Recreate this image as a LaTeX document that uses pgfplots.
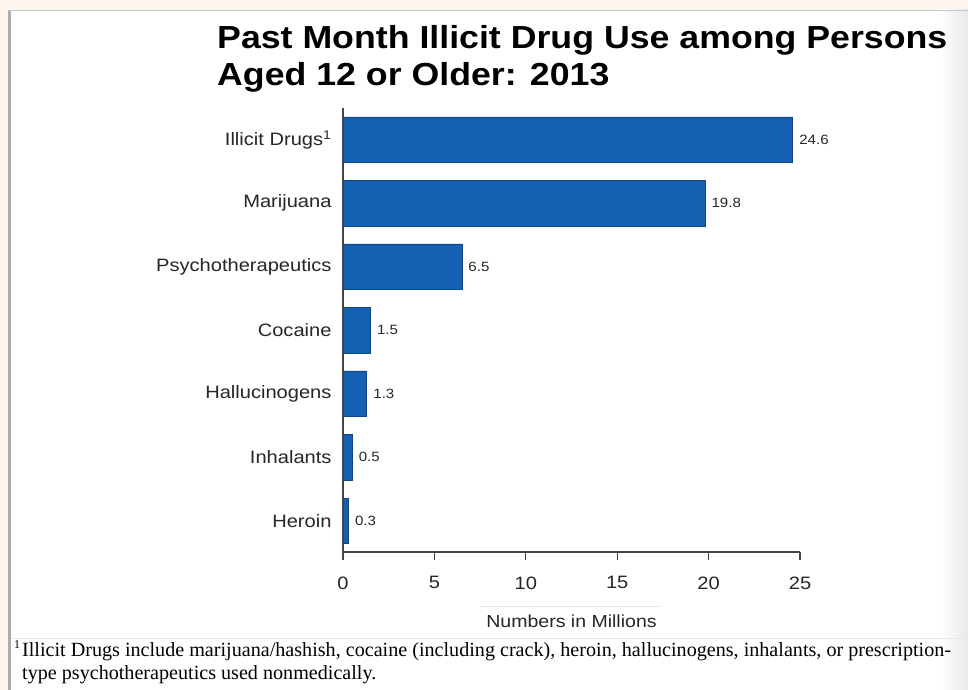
\documentclass[border=0pt]{standalone}
\usepackage{fontspec}
\setmainfont{Liberation Sans}[FakeStretch=1.12]
\newfontfamily\fnserif{Liberation Serif}
\usepackage{pgfplots}
\pgfplotsset{compat=1.18}
\definecolor{barblue}{RGB}{21,96,176}
\definecolor{bardark}{RGB}{18,70,130}
\definecolor{cream}{RGB}{253,246,238}
\definecolor{axgray}{RGB}{70,70,70}
\begin{document}
\begin{tikzpicture}[x=1bp,y=1bp]
\fill[cream] (0,0) rectangle (968,-690);
\useasboundingbox (0,0) rectangle (968,-690);
\fill[white] (8,-10) rectangle (968,-690);
\shade[left color=white, right color=gray!18] (940,-10) rectangle (968,-690);
\fill[gray!65] (8,-10) rectangle (11,-690);
\draw[gray!45, line width=1bp] (8,-10.5) -- (968,-10.5);
\draw[gray!22, line width=0.8bp] (480,-606) -- (660,-606);
\draw[gray!18, line width=0.8bp] (11,-638) -- (968,-638);

\node[anchor=north west, inner sep=0pt, align=left, font=\bfseries\fontsize{32}{37}\selectfont] at (217,-25)
  {Past Month Illicit Drug Use among Persons\\Aged 12 or Older: 2013};

\begin{axis}[
  at={(343bp,-552bp)}, anchor=south west,
  scale only axis, width=457bp, height=444bp,
  xmin=0, xmax=25, ymin=-0.49, ymax=6.5,
  xbar, bar width=0.72,
  axis x line*=bottom, axis y line*=left,
  axis line style={-, draw=axgray, line width=1.3bp},
  xtick={0,5,10,15,20,25},
  ytick={0,1,2,3,4,5,6},
  yticklabels={Heroin,Inhalants,Hallucinogens,Cocaine,Psychotherapeutics,Marijuana,Illicit Drugs\textsuperscript{1}},
  tick align=outside,
  x tick style={draw=axgray, line width=1.3bp},
  ytick style={draw=none},
  major tick length=8bp,
  /pgf/number format/assume math mode=true,
  tick label style={font=\fontsize{18}{21}\selectfont, text=black!85},
  yticklabel style={xshift=0bp},
  xticklabel style={yshift=-13bp},
  xlabel={Numbers in Millions},
  xlabel style={font=\fontsize{17.5}{20}\selectfont, text=black!85, yshift=-19bp},
  nodes near coords={\pgfmathprintnumber[fixed,precision=1,fixed zerofill]{\pgfplotspointmeta}},
  nodes near coords style={font=\fontsize{13.5}{15}\selectfont, text=black!85, anchor=west, xshift=3bp},
  clip=false,
]
\addplot[fill=barblue, draw=bardark, line width=0.6bp] coordinates {
  (0.3,0) (0.5,1) (1.3,2) (1.5,3) (6.5,4) (19.8,5) (24.6,6)
};
\end{axis}

\node[anchor=base west, inner sep=0pt, font=\fnserif\fontsize{12}{14}\selectfont] at (14,-648) {1};
\node[anchor=base west, inner sep=0pt, font=\fnserif\fontsize{20.2}{23}\selectfont] at (22,-656)
  {Illicit Drugs include marijuana/hashish, cocaine (including crack), heroin, hallucinogens, inhalants, or prescription-};
\node[anchor=base west, inner sep=0pt, font=\fnserif\fontsize{20.2}{23}\selectfont] at (22,-679)
  {type psychotherapeutics used nonmedically.};
\end{tikzpicture}
\end{document}
